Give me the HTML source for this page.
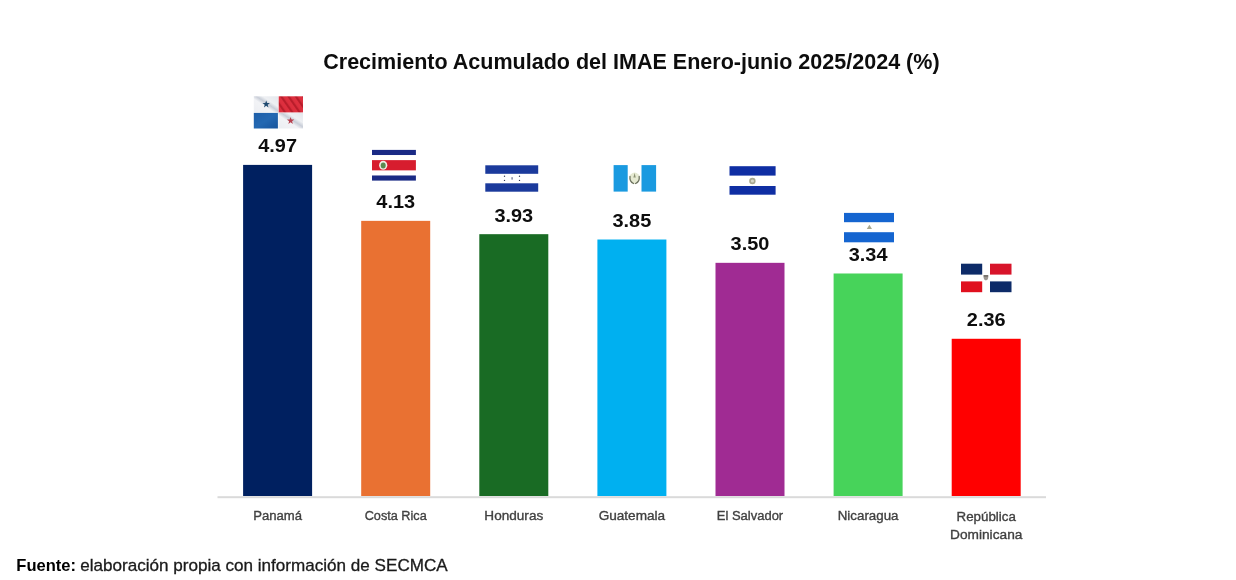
<!DOCTYPE html>
<html lang="es"><head><meta charset="utf-8"><title>Crecimiento Acumulado del IMAE</title>
<style>html,body{margin:0;padding:0;background:#fff;width:1236px;height:580px;overflow:hidden}</style>
</head><body>
<svg width="1236" height="580" viewBox="0 0 1236 580" style="display:block;font-family:'Liberation Sans', Arial, sans-serif;filter:blur(0.35px)"><text x="631.40" y="69.30" font-size="21.55" font-weight="bold" text-anchor="middle" textLength="616.34" lengthAdjust="spacingAndGlyphs" fill="#0d0d0d">Crecimiento Acumulado del IMAE Enero-junio 2025/2024 (%)</text><rect x="217.5" y="496.2" width="828.5" height="2" fill="#dadada"/><rect x="243.10" y="164.90" width="69.0" height="331.10" fill="#002060"/><text x="277.60" y="152.40" font-size="19.16" font-weight="bold" text-anchor="middle" textLength="38.77" lengthAdjust="spacingAndGlyphs" fill="#0d0d0d">4.97</text><rect x="361.20" y="220.86" width="69.0" height="275.14" fill="#E97132"/><text x="395.70" y="208.36" font-size="19.16" font-weight="bold" text-anchor="middle" textLength="38.77" lengthAdjust="spacingAndGlyphs" fill="#0d0d0d">4.13</text><rect x="479.30" y="234.18" width="69.0" height="261.82" fill="#196B24"/><text x="513.80" y="221.68" font-size="19.16" font-weight="bold" text-anchor="middle" textLength="38.77" lengthAdjust="spacingAndGlyphs" fill="#0d0d0d">3.93</text><rect x="597.40" y="239.51" width="69.0" height="256.49" fill="#00B0F0"/><text x="631.90" y="227.01" font-size="19.16" font-weight="bold" text-anchor="middle" textLength="38.77" lengthAdjust="spacingAndGlyphs" fill="#0d0d0d">3.85</text><rect x="715.50" y="262.83" width="69.0" height="233.17" fill="#A02B93"/><text x="750.00" y="250.33" font-size="19.16" font-weight="bold" text-anchor="middle" textLength="38.77" lengthAdjust="spacingAndGlyphs" fill="#0d0d0d">3.50</text><rect x="833.60" y="273.49" width="69.0" height="222.51" fill="#47D35A"/><text x="868.10" y="260.99" font-size="19.16" font-weight="bold" text-anchor="middle" textLength="38.77" lengthAdjust="spacingAndGlyphs" fill="#0d0d0d">3.34</text><rect x="951.70" y="338.78" width="69.0" height="157.22" fill="#FF0000"/><text x="986.20" y="326.28" font-size="19.16" font-weight="bold" text-anchor="middle" textLength="38.77" lengthAdjust="spacingAndGlyphs" fill="#0d0d0d">2.36</text><text x="277.60" y="520.30" font-size="13.25" font-weight="normal" text-anchor="middle" textLength="48.85" lengthAdjust="spacingAndGlyphs" fill="#404040" stroke="#404040" stroke-width="0.35">Panamá</text><text x="395.70" y="520.30" font-size="13.25" font-weight="normal" text-anchor="middle" textLength="62.01" lengthAdjust="spacingAndGlyphs" fill="#404040" stroke="#404040" stroke-width="0.35">Costa Rica</text><text x="513.80" y="520.30" font-size="13.25" font-weight="normal" text-anchor="middle" textLength="58.87" lengthAdjust="spacingAndGlyphs" fill="#404040" stroke="#404040" stroke-width="0.35">Honduras</text><text x="631.90" y="520.30" font-size="13.25" font-weight="normal" text-anchor="middle" textLength="66.51" lengthAdjust="spacingAndGlyphs" fill="#404040" stroke="#404040" stroke-width="0.35">Guatemala</text><text x="750.00" y="520.30" font-size="13.25" font-weight="normal" text-anchor="middle" textLength="66.44" lengthAdjust="spacingAndGlyphs" fill="#404040" stroke="#404040" stroke-width="0.35">El Salvador</text><text x="868.10" y="520.30" font-size="13.25" font-weight="normal" text-anchor="middle" textLength="60.76" lengthAdjust="spacingAndGlyphs" fill="#404040" stroke="#404040" stroke-width="0.35">Nicaragua</text><text x="986.20" y="520.60" font-size="13.25" font-weight="normal" text-anchor="middle" textLength="59.27" lengthAdjust="spacingAndGlyphs" fill="#404040" stroke="#404040" stroke-width="0.35">República</text><text x="986.20" y="539.30" font-size="13.25" font-weight="normal" text-anchor="middle" textLength="72.36" lengthAdjust="spacingAndGlyphs" fill="#404040" stroke="#404040" stroke-width="0.35">Dominicana</text><text x="16.30" y="570.60" font-size="16.78" font-weight="bold" text-anchor="start" textLength="59.66" lengthAdjust="spacingAndGlyphs" fill="#000">Fuente:</text><text x="80.26" y="570.60" font-size="16.78" font-weight="normal" text-anchor="start" textLength="367.44" lengthAdjust="spacingAndGlyphs" fill="#1a1a1a" stroke="#1a1a1a" stroke-width="0.3">elaboración propia con información de SECMCA</text><defs><pattern id="pr" patternUnits="userSpaceOnUse" width="6" height="40" patternTransform="rotate(-35)"><rect width="6" height="40" fill="#dd2f3e"/><rect width="2.2" height="40" fill="#b91d2b"/></pattern><linearGradient id="pw" x1="0" y1="1" x2="1" y2="0"><stop offset="0" stop-color="#eceef2"/><stop offset="0.42" stop-color="#f2f3f6"/><stop offset="0.55" stop-color="#c9ced8"/><stop offset="0.68" stop-color="#eef0f3"/><stop offset="1" stop-color="#e4e7ec"/></linearGradient><linearGradient id="pb" x1="0" y1="0" x2="1" y2="1"><stop offset="0" stop-color="#1d5ea8"/><stop offset="0.5" stop-color="#2468b2"/><stop offset="1" stop-color="#17549c"/></linearGradient></defs><rect x="253.8" y="96.3" width="24.50" height="16.40" fill="url(#pw)"/><rect x="278.3" y="112.7" width="24.70" height="15.80" fill="url(#pw)"/><rect x="278.7" y="96.3" width="24.30" height="16.10" fill="url(#pr)"/><rect x="253.8" y="112.9" width="24.10" height="15.60" fill="url(#pb)"/><polygon points="266.20,100.40 267.12,103.04 269.91,103.09 267.68,104.78 268.49,107.46 266.20,105.86 263.91,107.46 264.72,104.78 262.49,103.09 265.28,103.04" fill="#1f4a70"/><polygon points="290.60,116.90 291.52,119.54 294.31,119.59 292.08,121.28 292.89,123.96 290.60,122.36 288.31,123.96 289.12,121.28 286.89,119.59 289.68,119.54" fill="#b8404e"/><rect x="372" y="149.9" width="43.90" height="30.70" fill="#fff"/><rect x="372" y="149.9" width="43.90" height="5.12" fill="#1a2a85"/><rect x="372" y="160.13" width="43.90" height="10.23" fill="#d71d2e"/><rect x="372" y="175.48" width="43.90" height="5.12" fill="#1a2a85"/><ellipse cx="383.2" cy="165.25" rx="4.1" ry="4.6" fill="#f0ede4"/><ellipse cx="383.2" cy="165.55" rx="2.5" ry="3.0" fill="#5a8a50"/><rect x="485.3" y="165.3" width="52.90" height="8.5" fill="#1b3a9c"/><rect x="485.3" y="183.3" width="52.90" height="8.40" fill="#1b3a9c"/><circle cx="504.5" cy="176.3" r="0.7" fill="#333a55"/><circle cx="504.5" cy="180.4" r="0.7" fill="#333a55"/><circle cx="519.5" cy="176.3" r="0.7" fill="#333a55"/><circle cx="519.5" cy="180.4" r="0.7" fill="#333a55"/><rect x="511.3" y="177.2" width="1.6" height="2.4" fill="#8a8fa8"/><rect x="613.6" y="165.1" width="14.1" height="26.50" fill="#1a9ae0"/><rect x="641.5" y="165.1" width="14.60" height="26.50" fill="#1a9ae0"/><ellipse cx="634.6" cy="178.2" rx="5.2" ry="5.6" fill="#e6ead2"/><path d="M630.0,176.5 q-0.6,5.2 3.6,7.0" fill="none" stroke="#6f7562" stroke-width="1.3" stroke-linecap="round"/><path d="M639.2,176.5 q0.6,5.2 -3.6,7.0" fill="none" stroke="#6f7562" stroke-width="1.3" stroke-linecap="round"/><path d="M633.4,177.6 l1.2,-4.6 l1.2,4.6 z" fill="#8c9274"/><rect x="729.5" y="166.2" width="46.10" height="9.4" fill="#0f2ea3"/><rect x="729.5" y="186" width="46.10" height="8.70" fill="#0f2ea3"/><circle cx="752.4" cy="181" r="3.2" fill="#a8a890"/><circle cx="752.4" cy="181" r="1.6" fill="#d8d8c8"/><rect x="844" y="212.9" width="50.00" height="9.3" fill="#1565d0"/><rect x="844" y="232.2" width="50.00" height="10.10" fill="#1565d0"/><path d="M866.8,229 l2.6,-4.2 l2.6,4.2 z" fill="#a8a890"/><rect x="961" y="263.7" width="21.2" height="10.9" fill="#0d2b68"/><rect x="990" y="263.7" width="21.5" height="10.9" fill="#d8142a"/><rect x="961" y="281.4" width="21.2" height="10.8" fill="#e0101e"/><rect x="990" y="281.4" width="21.5" height="10.8" fill="#0d2b68"/><path d="M983.6,275.2 h4.6 v2.6 q0,2.2 -2.3,2.6 q-2.3,-0.4 -2.3,-2.6 z" fill="#9a9690"/><rect x="983.6" y="275.2" width="4.6" height="1.4" fill="#6a6660"/></svg>
</body></html>
